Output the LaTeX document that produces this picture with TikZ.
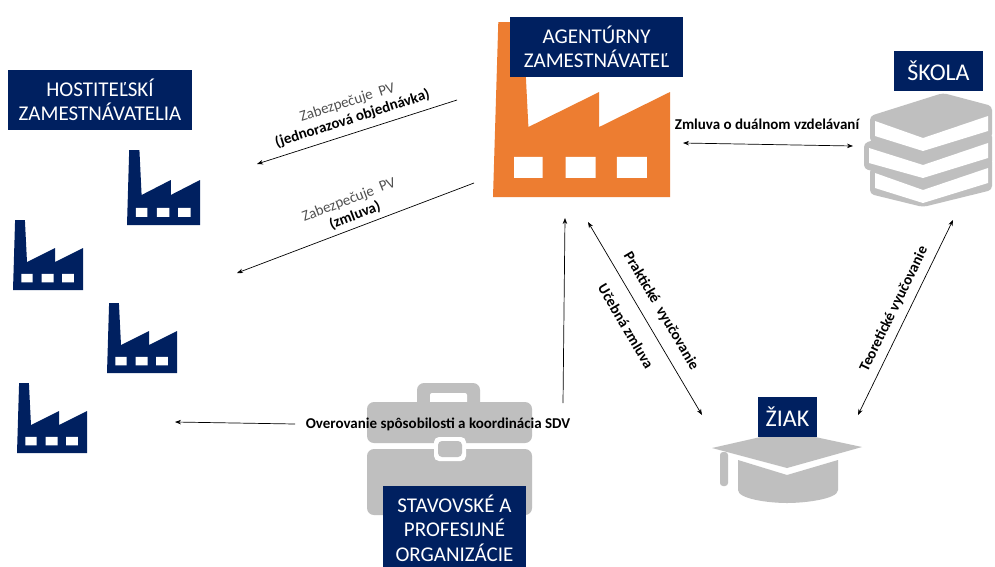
\documentclass[tikz,border=0pt]{standalone}
\usepackage{fontspec}
\setmainfont{Carlito}
\usetikzlibrary{arrows.meta}
\definecolor{navy}{HTML}{002060}
\definecolor{iconorange}{HTML}{ED7D31}
\definecolor{icongray}{HTML}{BFBFBF}
\definecolor{labelgray}{HTML}{505050}
\newcommand\myfactory[5]{%
  \begin{scope}[shift={(#1,#2)},xscale=#3,yscale=#4]
    \fill[#5] (0,1) -- (0.03,0) -- (0.17,0) -- (0.2,0.6) -- (0.6,0.4) -- (0.6,0.6) -- (1,0.4) -- (1,1) -- cycle;
    \fill[white] (0.12,0.77) rectangle (0.28,0.89) (0.41,0.77) rectangle (0.58,0.89) (0.70,0.77) rectangle (0.87,0.89);
  \end{scope}}
\newcommand\mybook[2]{%
  \fill[icongray,rounded corners=4pt] (#2,116+#1) -- (943,93+#1) -- (992,106+#1) -- (992,138+#1) -- (923,155+#1) -- (#2,142+#1) -- cycle;
  \fill[white] (#2+5,121+#1) -- (923,138+#1) -- (988,116+#1) -- (988,131+#1) -- (923,151+#1) -- (#2+5,136+#1) -- cycle;}
\begin{document}
\begin{tikzpicture}[x=1pt,y=-1pt,
  titlebox/.style={fill=navy,text=white,inner sep=0pt,align=center,font=\fontsize{21}{24.5}\selectfont},
  bigtitle/.style={titlebox,font=\fontsize{24}{28}\selectfont},
  conn/.style={line width=0.7pt,-{Stealth[length=6pt,width=4.5pt]}},
  dconn/.style={line width=0.7pt,{Stealth[length=6pt,width=4.5pt]}-{Stealth[length=6pt,width=4.5pt]}},
  lbl/.style={font=\fontsize{15}{17}\selectfont\bfseries,inner sep=0pt,align=center},
  lblmix/.style={font=\fontsize{15}{17}\selectfont,inner sep=0pt,align=center}]
\useasboundingbox (0,0) rectangle (995,566);
\fill[white] (0,0) rectangle (995,566);

% host factories
\myfactory{127}{150}{73}{75}{navy}
\myfactory{13}{220}{70}{70}{navy}
\myfactory{107}{303}{70}{70}{navy}
\myfactory{17}{383}{70}{70}{navy}
\node[titlebox,minimum width=184pt,minimum height=60pt] (host) at (100,100) {HOSTITEĽSKÍ\\ZAMESTNÁVATELIA};

% agency factory
\myfactory{493}{22}{177}{175}{iconorange}
\node[titlebox,minimum width=173pt,minimum height=60pt] (agent) at (596.5,47) {AGENTÚRNY\\ZAMESTNÁVATEĽ};

% books
\mybook{52}{870}
\mybook{27}{864}
\mybook{0}{870}
\node[bigtitle,minimum width=89pt,minimum height=40pt] (skola) at (938.5,71) {ŠKOLA};

% graduation cap
\fill[icongray] (712,448) -- (787,431) -- (862,447) -- (787,468) -- cycle;
\fill[icongray] (738,460) -- (787,475) -- (838,460) -- (838,490) .. controls (838,499) and (805,503) .. (787,503) .. controls (769,503) and (738,499) .. (738,490) -- cycle;
\fill[icongray,rounded corners=3pt] (720,452) -- (728,452) -- (728,486) -- (720,486) -- cycle;
\node[bigtitle,minimum width=59pt,minimum height=40pt] (ziak) at (787.5,417) {ŽIAK};

% briefcase
\fill[icongray,rounded corners=7pt] (417,383) rectangle (480,412);
\fill[white,rounded corners=2pt] (430,393) rectangle (467,404);
\fill[icongray,rounded corners=7pt] (367,402) rectangle (532,443);
\fill[icongray,rounded corners=7pt] (367,449) rectangle (532,515);
\fill[white,rounded corners=5pt] (434,437) rectangle (466,461);
\fill[icongray,rounded corners=4pt] (438,441) rectangle (462,457);
\node[titlebox,minimum width=143pt,minimum height=84pt,anchor=north] (stav) at (454.5,486) {STAVOVSKÉ A\\PROFESIJNÉ\\ORGANIZÁCIE};

% connector end points
\coordinate (a1s) at (457,100); \coordinate (a1e) at (257,164);
\coordinate (a2s) at (474,183); \coordinate (a2e) at (237,273);
\coordinate (a3s) at (683,143); \coordinate (a3e) at (853,146);
\coordinate (a4s) at (563,403); \coordinate (a4e) at (565,218);
\coordinate (a5s) at (588,222); \coordinate (a5e) at (702,415);
\coordinate (a6s) at (953,220); \coordinate (a6e) at (858,415);
\coordinate (a7s) at (295,424); \coordinate (a7e) at (175,422);

\draw[conn] (a1s) -- (a1e);
\draw[conn] (a2s) -- (a2e);
\draw[dconn] (a3s) -- (a3e);
\draw[conn] (a4s) -- (a4e);
\draw[dconn] (a5s) -- (a5e);
\draw[dconn] (a6s) -- (a6e);
\draw[conn] (a7s) -- (a7e);

% labels
\node[lblmix,rotate=17.7] (l1) at (350,111) {\textcolor{labelgray}{Zabezpečuje\ \ PV}\\\textbf{(jednorazová objednávka)}};
\node[lblmix,rotate=21] (l2) at (352,208) {\textcolor{labelgray}{Zabezpečuje\ \ PV}\\\textbf{(zmluva)}};
\node[lbl] (l3) at (767,124) {Zmluva o duálnom vzdelávaní};
\node[lbl,rotate=-59.4] (l4) at (661,311) {Praktické\ \ vyučovanie};
\node[lbl,rotate=-59.4] (l5) at (626,326) {Učebná zmluva};
\node[lbl,rotate=64] (l6) at (894,309) {Teoretické vyučovanie};
\node[lbl] (l7) at (438,424) {Overovanie spôsobilosti a koordinácia SDV};
\end{tikzpicture}
\end{document}
